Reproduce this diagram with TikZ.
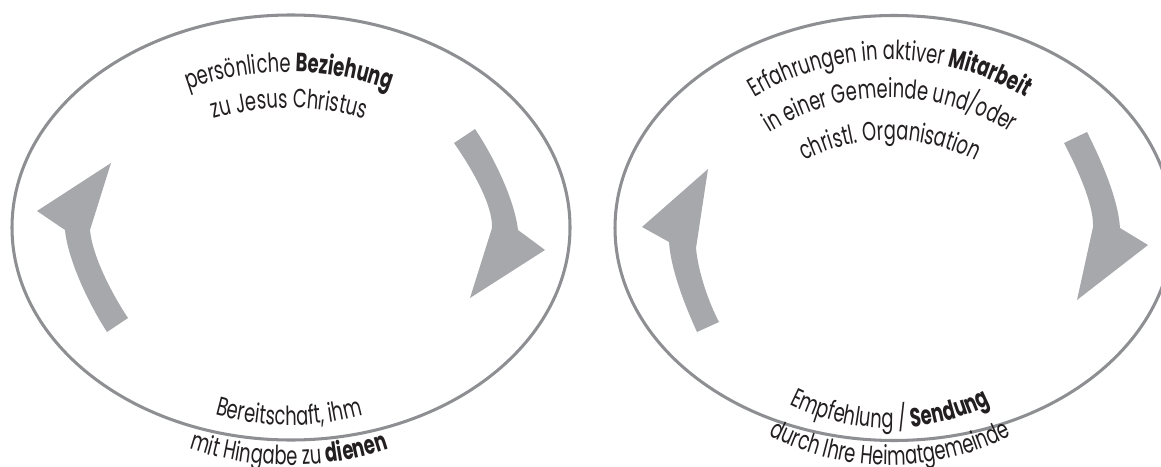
\documentclass[tikz,border=0pt]{standalone}
\usepackage{fontspec}
\setmainfont{Poppins}[FakeStretch=0.68]
\usepackage{tikz}
\usetikzlibrary{decorations.text}
\definecolor{ringgrau}{HTML}{8E8F92}
\definecolor{pfeilgrau}{HTML}{A7A8AB}
\definecolor{schriftfarbe}{HTML}{231F20}
\newcommand{\bogenfont}{\fontsize{22.5}{26}\selectfont\color{schriftfarbe}}
\tikzstyle{ring}=[draw=ringgrau,line width=2.6pt]
\tikzstyle{pfeil}=[fill=pfeilgrau,draw=none]
\tikzset{bogen/.style={decorate,decoration={text along path,
                       text align=center,text={|\bogenfont|#1}}}}

\begin{document}
\begin{tikzpicture}[x=0.03cm,y=0.03cm]
    \useasboundingbox (0,0) rectangle (1161,466);
    \newcommand{\halbx}{279}
    \newcommand{\halby}{212.5}
    % Mittelpunkte
    \coordinate (links) at (291,238.5);
    \coordinate (rechts) at (894,238);
    \draw[ring] (links) ellipse [x radius=\halbx, y radius=\halby];
    \draw[ring] (rechts) ellipse [x radius=\halbx, y radius=\halby];
    % Pfeile links
    \path[pfeil] (107,134) .. controls (90,160) and (68,205) .. (65,236)
        -- (37,255) -- (111,303) -- (90,236)
        .. controls (92,212) and (110,175) .. (128,148) -- cycle;
    \path[pfeil] (454,323) -- (475,337) .. controls (490,315) and (514,270) .. (518,236)
        -- (545,216) -- (470,168) -- (492,238)
        .. controls (493,262) and (470,300) .. (454,323) -- cycle;
    % Pfeile rechts
    \path[pfeil] (697,134) .. controls (686,158) and (671,195) .. (669,224)
        -- (642,239) -- (708,297) -- (696,218)
        .. controls (698,195) and (708,165) .. (719,144) -- cycle;
    \path[pfeil] (1064,323) -- (1087,334) .. controls (1101,306) and (1118,268) .. (1120,238)
        -- (1148,221) -- (1077,166) -- (1093,239)
        .. controls (1094,262) and (1076,300) .. (1064,323) -- cycle;
    % Texte links
    \coordinate (lo) at (289,94);
    \coordinate (lu) at (289,316);
    \path[bogen={persönliche |+\bfseries|Beziehung}]
        (lo) ++(150:300) arc[start angle=150,end angle=30,radius=300];
    \path[bogen={zu Jesus Christus}]
        (lo) ++(150:264) arc[start angle=150,end angle=30,radius=264];
    \path[bogen={Bereitschaft, ihm}]
        (lu) ++(-150:275) arc[start angle=-150,end angle=-30,radius=275];
    \path[bogen={mit Hingabe zu |+\bfseries|dienen}]
        (lu) ++(-150:315) arc[start angle=-150,end angle=-30,radius=315];
    % Texte rechts
    \coordinate (ro) at (890,140);
    \coordinate (ru) at (890,263);
    \path[bogen={Erfahrungen in aktiver |+\bfseries|Mitarbeit}]
        (ro) ++(160:266) arc[start angle=160,end angle=20,radius=266];
    \path[bogen={in einer Gemeinde und/oder}]
        (ro) ++(160:228) arc[start angle=160,end angle=20,radius=228];
    \path[bogen={christl. Organisation}]
        (ro) ++(160:186) arc[start angle=160,end angle=20,radius=186];
    \path[bogen={Empfehlung / |+\bfseries|Sendung}]
        (ru) ++(-160:225) arc[start angle=-160,end angle=-20,radius=225];
    \path[bogen={durch Ihre Heimatgemeinde}]
        (ru) ++(-160:262) arc[start angle=-160,end angle=-20,radius=262];
\end{tikzpicture}
\end{document}
